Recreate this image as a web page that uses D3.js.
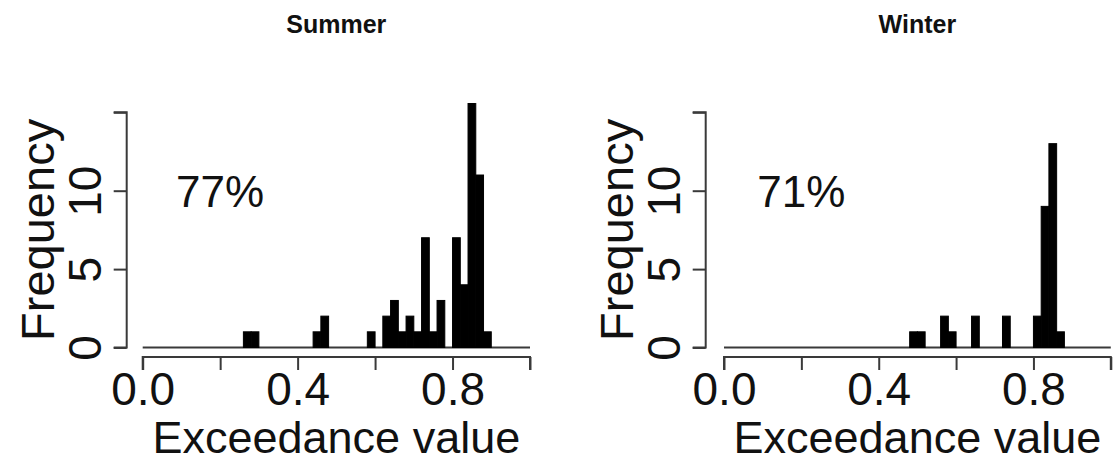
<!DOCTYPE html>
<html>
<head>
<meta charset="utf-8">
<script src="https://cdn.jsdelivr.net/npm/d3@7"></script>
<style>
  html, body { margin: 0; padding: 0; background: #fff; }
  svg { display: block; font-family: "Liberation Sans", Arial, sans-serif; }
</style>
</head>
<body>
<svg id="chart" width="1113" height="461"></svg>
<script>
// ---- data ----
const panels = ["Summer", "Winter"];
const percentLabels = ["77%", "71%"];
const binWidth = 0.02;
const summerBinStarts = [0.26, 0.28, 0.44, 0.46, 0.58, 0.62, 0.64, 0.66, 0.68, 0.70, 0.72, 0.74, 0.76, 0.80, 0.82, 0.84, 0.86, 0.88];
const summerCounts    = [1,    1,    1,    2,    1,    2,    3,    1,    2,    1,    7,    1,    3,    7,    4,    16,   11,   1];
const winterBinStarts = [0.48, 0.50, 0.56, 0.58, 0.64, 0.72, 0.80, 0.82, 0.84, 0.86];
const winterCounts    = [1,    1,    2,    1,    2,    2,    2,    9,    13,   1];
const xTicks = [0, 0.2, 0.4, 0.6, 0.8, 1.0];
const xTickLabels = ["0.0", "", "0.4", "", "0.8", ""];
const yTicks = [0, 5, 10, 15];
const yTickLabels = ["0", "5", "10", ""];
const xTitle = "Exceedance value";
const yTitle = "Frequency";

// ---- layout ----
const svg = d3.select("#chart");
const layouts = [
  { x0: 142.7, x1: 530.0, yAxisX: 126.7 },
  { x0: 724.0, x1: 1110.8, yAxisX: 705.7 }
];
const yBase = 347.5, yTop15 = 112.3;
const lineColor = "#3a3a3a";
const series = [
  { starts: summerBinStarts, counts: summerCounts },
  { starts: winterBinStarts, counts: winterCounts }
];

panels.forEach((name, i) => {
  const L = layouts[i];
  const x = d3.scaleLinear().domain([0, 1]).range([L.x0, L.x1]);
  const y = d3.scaleLinear().domain([0, 15]).range([yBase, yTop15]);
  const g = svg.append("g");

  // clip region (plot region, R-style 4% extension on y)
  const clipId = "clip" + i;
  svg.append("clipPath").attr("id", clipId)
    .append("rect")
    .attr("x", x(-0.04)).attr("y", y(15.6))
    .attr("width", x(1.04) - x(-0.04))
    .attr("height", y(0) - y(15.6) + 2);

  // title
  g.append("text")
    .attr("x", (L.x0 + L.x1) / 2).attr("y", 33)
    .attr("text-anchor", "middle")
    .attr("font-weight", "bold").attr("font-size", 25)
    .attr("fill", "#111")
    .text(name);

  // baseline of histogram
  g.append("line")
    .attr("x1", x(0)).attr("x2", x(1))
    .attr("y1", y(0)).attr("y2", y(0))
    .attr("stroke", lineColor).attr("stroke-width", 2);

  // bars
  const data = series[i].starts.map((s, k) => ({ s, c: series[i].counts[k] }));
  g.append("g").attr("clip-path", `url(#${clipId})`)
    .selectAll("rect").data(data).enter().append("rect")
    .attr("x", d => x(d.s))
    .attr("width", d => x(d.s + binWidth) - x(d.s))
    .attr("y", d => y(d.c))
    .attr("height", d => y(0) - y(d.c))
    .attr("fill", "#000").attr("stroke", "#000").attr("stroke-width", 1);

  // x axis
  const xAxis = d3.axisBottom(x)
    .tickValues(xTicks)
    .tickSize(13).tickPadding(3)
    .tickFormat((d, k) => xTickLabels[k]);
  const gx = g.append("g").attr("transform", `translate(0,357)`).call(xAxis);
  gx.select(".domain").attr("stroke", lineColor).attr("stroke-width", 2)
    .attr("d", `M${x(0)},13V0H${x(1)}V13`);
  gx.selectAll(".tick line").attr("stroke", lineColor).attr("stroke-width", 2);
  gx.selectAll(".tick text").attr("font-size", 46).attr("fill", "#111")
    .attr("font-family", "Liberation Sans, Arial, sans-serif")
    .attr("dy", null).attr("y", 48);

  // y axis
  const yAxis = d3.axisLeft(y)
    .tickValues(yTicks)
    .tickSize(13)
    .tickFormat((d, k) => yTickLabels[k]);
  const gy = g.append("g").attr("transform", `translate(${L.yAxisX},0)`).call(yAxis);
  gy.select(".domain").attr("stroke", lineColor).attr("stroke-width", 2)
    .attr("d", `M-13,${y(15)}H0V${y(0)}H-13`);
  gy.selectAll(".tick line").attr("stroke", lineColor).attr("stroke-width", 2);
  gy.selectAll(".tick text")
    .attr("font-size", 46).attr("fill", "#111")
    .attr("font-family", "Liberation Sans, Arial, sans-serif")
    .attr("x", null).attr("dy", null)
    .attr("text-anchor", "middle")
    .attr("transform", "translate(-26,0) rotate(-90)");

  // x title
  g.append("text")
    .attr("x", (L.x0 + L.x1) / 2).attr("y", 453)
    .attr("text-anchor", "middle")
    .attr("font-size", 45).attr("fill", "#111")
    .text(xTitle);

  // y title
  g.append("text")
    .attr("transform", `translate(${L.yAxisX - 73},${(y(0) + y(15)) / 2}) rotate(-90)`)
    .attr("text-anchor", "middle")
    .attr("font-size", 47).attr("fill", "#111")
    .text(yTitle);

  // percent annotation
  g.append("text")
    .attr("x", x(0.2)).attr("y", y(10) + 16)
    .attr("text-anchor", "middle")
    .attr("font-size", 44).attr("fill", "#111")
    .text(percentLabels[i]);
});
</script>
</body>
</html>
